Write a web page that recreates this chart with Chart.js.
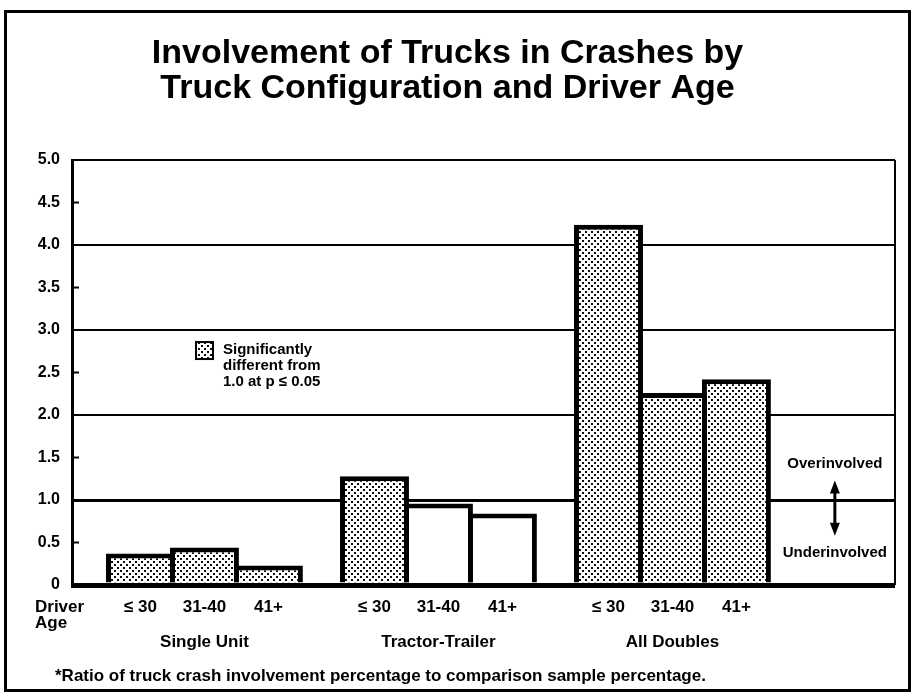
<!DOCTYPE html>
<html>
<head>
<meta charset="utf-8">
<script src="https://cdn.jsdelivr.net/npm/chart.js@4"></script>
<style>
  html, body { margin: 0; padding: 0; background: #fff; }
  #wrap { width: 914px; height: 696px; }
</style>
</head>
<body>
<div id="wrap"><canvas id="chart" width="914" height="696"></canvas></div>
<script>
// values (ratio, 1.0 = same as comparison sample)
const groups    = ['Single Unit', 'Tractor-Trailer', 'All Doubles'];
const ageBands  = ['≤ 30', '31-40', '41+'];
const ageUpTo30 = [0.37, 1.28, 4.24];
const age31to40 = [0.44, 0.96, 2.26];
const age41plus = [0.23, 0.84, 2.42];

// significantly different from 1.0 at p <= 0.05 -> stippled bar
const sigUpTo30 = [true, true,  true];
const sig31to40 = [true, false, true];
const sig41plus = [true, false, true];

const titleLines = ['Involvement of Trucks in Crashes by', 'Truck Configuration and Driver Age'];
const legendLines = ['Significantly', 'different from', '1.0 at p ≤ 0.05'];
const footnote = '*Ratio of truck crash involvement percentage to comparison sample percentage.';

const FONT = "'Liberation Sans', Arial, Helvetica, sans-serif";
const canvas = document.getElementById('chart');

function makeStipple() {
  const c = document.createElement('canvas');
  c.width = 6; c.height = 6;
  const g = c.getContext('2d');
  g.fillStyle = '#fff';
  g.fillRect(0, 0, 6, 6);
  g.fillStyle = '#111';
  g.fillRect(0, 0, 2, 2);
  g.fillRect(3, 3, 2, 2);
  return canvas.getContext('2d').createPattern(c, 'repeat');
}
const stipple = makeStipple();

const series = [ageUpTo30, age31to40, age41plus];
const sig    = [sigUpTo30, sig31to40, sig41plus];

// everything that isn't a bar or the y axis: frame, age/group labels, legend, notes
const decor = {
  id: 'decor',
  beforeDraw(chart) {
    const ctx = chart.ctx;
    ctx.save();
    ctx.fillStyle = '#fff';
    ctx.fillRect(0, 0, chart.width, chart.height);
    ctx.restore();
  },
  afterDraw(chart) {
    const ctx = chart.ctx;
    const a = chart.chartArea;
    const xs = chart.scales.x, ys = chart.scales.y;
    ctx.save();
    ctx.strokeStyle = '#000';
    ctx.fillStyle = '#000';

    // outer frame
    ctx.lineWidth = 3;
    ctx.strokeRect(5.5, 11.5, 904, 679);

    // right edge of plot
    ctx.lineWidth = 2;
    ctx.beginPath();
    ctx.moveTo(a.right, a.top);
    ctx.lineTo(a.right, a.bottom);
    ctx.stroke();

    // short inside ticks at the half values
    ys.ticks.forEach(t => {
      if (Number.isInteger(t.value)) return;
      const y = ys.getPixelForValue(t.value);
      ctx.beginPath();
      ctx.moveTo(a.left, y);
      ctx.lineTo(a.left + 7, y);
      ctx.stroke();
    });

    // age labels under each bar
    ctx.font = `bold 17px ${FONT}`;
    ctx.textBaseline = 'middle';
    ctx.textAlign = 'center';
    chart.data.datasets.forEach((ds, k) => {
      chart.getDatasetMeta(k).data.forEach(el => {
        ctx.fillText(ds.label, el.x, a.bottom + 22);
      });
    });
    groups.forEach((g, i) => {
      ctx.fillText(g, xs.getPixelForValue(i), a.bottom + 57);
    });
    ctx.textAlign = 'left';
    ctx.fillText('Driver', a.left - 37, a.bottom + 22);
    ctx.fillText('Age', a.left - 37, a.bottom + 38);

    // footnote
    ctx.fillText(footnote, 55, 676);

    // legend
    const lx = a.left + 124, ly = a.top + 182;
    ctx.fillStyle = stipple;
    ctx.fillRect(lx, ly, 17, 17);
    ctx.lineWidth = 2;
    ctx.strokeRect(lx, ly, 17, 17);
    ctx.fillStyle = '#000';
    ctx.font = `bold 15px ${FONT}`;
    legendLines.forEach((s, i) => ctx.fillText(s, lx + 27, ly + 8 + i * 16));

    // over / under involved note beside the 1.0 line
    const nx = xs.getPixelForValue(2.694);
    ctx.textAlign = 'center';
    ctx.font = `bold 15px ${FONT}`;
    ctx.fillText('Overinvolved', nx, ys.getPixelForValue(1.42));
    ctx.fillText('Underinvolved', nx, ys.getPixelForValue(0.375));
    const yTop = ys.getPixelForValue(1.23), yBot = ys.getPixelForValue(0.58);
    ctx.lineWidth = 3;
    ctx.beginPath();
    ctx.moveTo(nx, yTop + 8);
    ctx.lineTo(nx, yBot - 8);
    ctx.stroke();
    ctx.beginPath();
    ctx.moveTo(nx, yTop); ctx.lineTo(nx - 5, yTop + 13); ctx.lineTo(nx + 5, yTop + 13);
    ctx.closePath(); ctx.fill();
    ctx.beginPath();
    ctx.moveTo(nx, yBot); ctx.lineTo(nx - 5, yBot - 13); ctx.lineTo(nx + 5, yBot - 13);
    ctx.closePath(); ctx.fill();

    ctx.restore();
  },
};

new Chart(canvas, {
  type: 'bar',
  data: {
    datasets: series.map((vals, k) => ({
      label: ageBands[k],
      data: vals.map((v, i) => ({ x: i, y: v })),
      backgroundColor: sig[k].map(s => s ? stipple : '#fff'),
      borderColor: '#000',
      borderWidth: 5,
      borderSkipped: 'start',
      categoryPercentage: 0.82,
      barPercentage: 1.078,
    })),
  },
  options: {
    responsive: false,
    animation: false,
    devicePixelRatio: 1,
    layout: { padding: { top: 0, left: 0, right: 19, bottom: 111 } },
    plugins: {
      legend: { display: false },
      tooltip: { enabled: false },
      title: {
        display: true,
        text: titleLines,
        color: '#000',
        font: { family: FONT, size: 34, weight: 'bold', lineHeight: 1.03 },
        padding: { top: 36, bottom: 54 },
      },
    },
    scales: {
      x: {
        type: 'linear',
        min: -0.566,
        max: 2.951,
        offset: false,
        display: false,
        afterBuildTicks: s => { s.ticks = groups.map((_, i) => ({ value: i })); },
      },
      y: {
        min: 0,
        max: 5,
        z: 1,
        afterFit: s => { s.width = 72; },
        border: { display: true, color: '#000', width: 3 },
        grid: {
          drawTicks: false,
          color: c => (c.tick && Number.isInteger(c.tick.value)) ? '#000' : 'rgba(0,0,0,0)',
          lineWidth: c => {
            const v = c.tick ? c.tick.value : 0;
            if (v === 0) return 5;
            if (v === 1) return 3;
            return Number.isInteger(v) ? 2 : 0;
          },
        },
        ticks: {
          stepSize: 0.5,
          padding: 12,
          color: '#000',
          font: { family: FONT, size: 16, weight: 'bold' },
          callback: v => v === 0 ? '0' : v.toFixed(1),
        },
      },
    },
  },
  plugins: [decor],
});
</script>
</body>
</html>
